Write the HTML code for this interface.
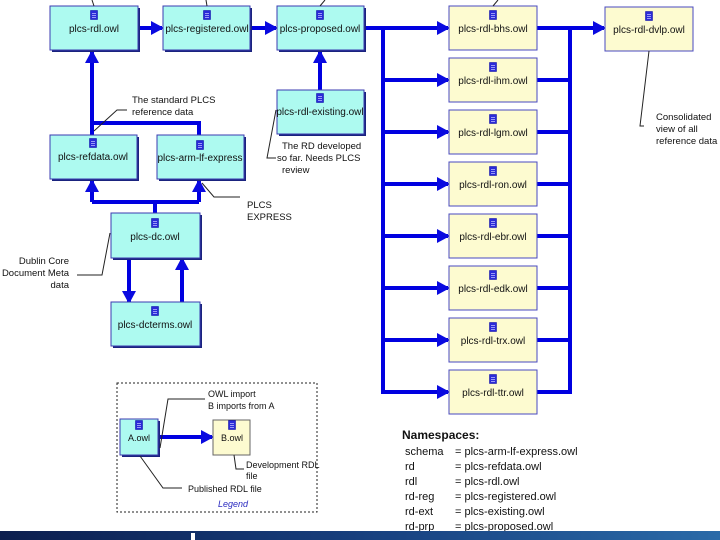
<!DOCTYPE html>
<html><head><style>
html,body{margin:0;padding:0;background:#fff;}
svg{display:block;font-family:"Liberation Sans",sans-serif;}
</style></head><body>
<svg width="720" height="540" viewBox="0 0 720 540" xmlns="http://www.w3.org/2000/svg">
<defs>
<marker id="ah" markerWidth="13" markerHeight="14" refX="11" refY="7" orient="auto" markerUnits="userSpaceOnUse"><path d="M0,0 L13,7 L0,14 z" fill="#0a0ae0"/></marker>
<linearGradient id="band" x1="0" x2="1" y1="0" y2="0"><stop offset="0" stop-color="#0c1e4e"/><stop offset="0.5" stop-color="#173f7e"/><stop offset="1" stop-color="#2a6aa8"/></linearGradient>
<g id="ic"><rect x="-3.5" y="-4.5" width="7" height="9" fill="#2a2ad8" stroke="#0000a0" stroke-width="0.5"/><path d="M-2,-1.5h4M-2,0.5h4M-2,2.5h4" stroke="#c0c0ff" stroke-width="0.7"/></g>
</defs>
<rect width="720" height="540" fill="#fff"/>

<g stroke="#0000e0" stroke-width="4" fill="none">
<line x1="138" y1="28" x2="162" y2="28" marker-end="url(#ah)"/>
<line x1="250" y1="28" x2="276" y2="28" marker-end="url(#ah)"/>
<line x1="364" y1="28" x2="448" y2="28" marker-end="url(#ah)"/>
<line x1="320" y1="90" x2="320" y2="52" marker-end="url(#ah)"/>
<line x1="383" y1="28" x2="383" y2="392"/>
<line x1="383" y1="80" x2="448" y2="80" marker-end="url(#ah)"/>
<line x1="383" y1="132" x2="448" y2="132" marker-end="url(#ah)"/>
<line x1="383" y1="184" x2="448" y2="184" marker-end="url(#ah)"/>
<line x1="383" y1="236" x2="448" y2="236" marker-end="url(#ah)"/>
<line x1="383" y1="288" x2="448" y2="288" marker-end="url(#ah)"/>
<line x1="383" y1="340" x2="448" y2="340" marker-end="url(#ah)"/>
<line x1="381" y1="392" x2="448" y2="392" marker-end="url(#ah)"/>
<line x1="570" y1="28" x2="570" y2="394"/>
<line x1="537" y1="28" x2="604" y2="28" marker-end="url(#ah)"/>
<line x1="537" y1="80" x2="570" y2="80"/>
<line x1="537" y1="132" x2="570" y2="132"/>
<line x1="537" y1="184" x2="570" y2="184"/>
<line x1="537" y1="236" x2="570" y2="236"/>
<line x1="537" y1="288" x2="570" y2="288"/>
<line x1="537" y1="340" x2="570" y2="340"/>
<line x1="537" y1="392" x2="572" y2="392"/>
<line x1="92" y1="135" x2="92" y2="52" marker-end="url(#ah)"/>
<polyline points="199,135 199,123 92,123"/>
<line x1="155" y1="213" x2="155" y2="202"/>
<line x1="92" y1="202" x2="199" y2="202"/>
<line x1="92" y1="202" x2="92" y2="181" marker-end="url(#ah)"/>
<line x1="199" y1="202" x2="199" y2="181" marker-end="url(#ah)"/>
<line x1="129" y1="258" x2="129" y2="302" marker-end="url(#ah)"/>
<line x1="182" y1="302" x2="182" y2="259" marker-end="url(#ah)"/>
<line x1="159" y1="437" x2="212" y2="437" marker-end="url(#ah)"/>
</g>

<g font-size="10" text-anchor="middle" fill="#111">
<g>
<rect x="52" y="8" width="88" height="44" fill="#1a237e"/><rect x="50" y="6" width="88" height="44" fill="#adfaf0" stroke="#3b3bb0"/>
<use href="#ic" x="94" y="15"/><text x="94" y="32">plcs-rdl.owl</text>
</g>
<g>
<rect x="165" y="8" width="87" height="44" fill="#1a237e"/><rect x="163" y="6" width="87" height="44" fill="#adfaf0" stroke="#3b3bb0"/>
<use href="#ic" x="207" y="15"/><text x="207" y="32">plcs-registered.owl</text>
</g>
<g>
<rect x="279" y="8" width="87" height="44" fill="#1a237e"/><rect x="277" y="6" width="87" height="44" fill="#adfaf0" stroke="#3b3bb0"/>
<use href="#ic" x="320" y="15"/><text x="320" y="32">plcs-proposed.owl</text>
</g>
<g>
<rect x="279" y="92" width="87" height="44" fill="#1a237e"/><rect x="277" y="90" width="87" height="44" fill="#adfaf0" stroke="#3b3bb0"/>
<use href="#ic" x="320" y="98"/><text x="320" y="115">plcs-rdl-existing.owl</text>
</g>
<g>
<rect x="52" y="137" width="87" height="44" fill="#1a237e"/><rect x="50" y="135" width="87" height="44" fill="#adfaf0" stroke="#3b3bb0"/>
<use href="#ic" x="93" y="143"/><text x="93" y="160">plcs-refdata.owl</text>
</g>
<g>
<rect x="159" y="137" width="87" height="44" fill="#1a237e"/><rect x="157" y="135" width="87" height="44" fill="#adfaf0" stroke="#3b3bb0"/>
<use href="#ic" x="200" y="145"/><text x="200" y="161">plcs-arm-lf-express</text>
</g>
<g>
<rect x="113" y="215" width="89" height="45" fill="#1a237e"/><rect x="111" y="213" width="89" height="45" fill="#adfaf0" stroke="#3b3bb0"/>
<use href="#ic" x="155" y="223"/><text x="155" y="240">plcs-dc.owl</text>
</g>
<g>
<rect x="113" y="304" width="89" height="44" fill="#1a237e"/><rect x="111" y="302" width="89" height="44" fill="#adfaf0" stroke="#3b3bb0"/>
<use href="#ic" x="155" y="311"/><text x="155" y="328">plcs-dcterms.owl</text>
</g>

<g>
<rect x="449" y="6" width="88" height="44" fill="#fdfbd0" stroke="#4848c0"/><use href="#ic" x="493" y="15"/><text x="493" y="32">plcs-rdl-bhs.owl</text>
<rect x="449" y="58" width="88" height="44" fill="#fdfbd0" stroke="#4848c0"/><use href="#ic" x="493" y="67"/><text x="493" y="84">plcs-rdl-ihm.owl</text>
<rect x="449" y="110" width="88" height="44" fill="#fdfbd0" stroke="#4848c0"/><use href="#ic" x="493" y="119"/><text x="493" y="136">plcs-rdl-lgm.owl</text>
<rect x="449" y="162" width="88" height="44" fill="#fdfbd0" stroke="#4848c0"/><use href="#ic" x="493" y="171"/><text x="493" y="188">plcs-rdl-ron.owl</text>
<rect x="449" y="214" width="88" height="44" fill="#fdfbd0" stroke="#4848c0"/><use href="#ic" x="493" y="223"/><text x="493" y="240">plcs-rdl-ebr.owl</text>
<rect x="449" y="266" width="88" height="44" fill="#fdfbd0" stroke="#4848c0"/><use href="#ic" x="493" y="275"/><text x="493" y="292">plcs-rdl-edk.owl</text>
<rect x="449" y="318" width="88" height="44" fill="#fdfbd0" stroke="#4848c0"/><use href="#ic" x="493" y="327"/><text x="493" y="344">plcs-rdl-trx.owl</text>
<rect x="449" y="370" width="88" height="44" fill="#fdfbd0" stroke="#4848c0"/><use href="#ic" x="493" y="379"/><text x="493" y="396">plcs-rdl-ttr.owl</text>
<rect x="605" y="7" width="88" height="44" fill="#fdfbd0" stroke="#4848c0"/><use href="#ic" x="649" y="16"/><text x="649" y="33">plcs-rdl-dvlp.owl</text>
</g>

<rect x="117" y="383" width="200" height="129" fill="none" stroke="#222" stroke-dasharray="2,2"/>
<rect x="122" y="421" width="38" height="36" fill="#1a237e"/><rect x="120" y="419" width="38" height="36" fill="#adfaf0" stroke="#3b3bb0"/>
<use href="#ic" x="139" y="425"/><text x="139" y="441" font-size="9">A.owl</text>
<rect x="213" y="420" width="37" height="35" fill="#fdfbd0" stroke="#666"/>
<use href="#ic" x="232" y="425"/><text x="232" y="441" font-size="9">B.owl</text>
</g>

<g stroke="#222" stroke-width="1" fill="none">
<line x1="92" y1="0" x2="94" y2="6"/>
<line x1="206" y1="0" x2="207" y2="6"/>
<line x1="325" y1="0" x2="320" y2="6"/>
<line x1="498" y1="0" x2="493" y2="6"/>
<polyline points="94,131 117,110 127,110"/>
<polyline points="276,110 267,158 276,158"/>
<polyline points="202,183 214,197 240,197"/>
<polyline points="110,233 102,275 77,275"/>
<polyline points="649,51 640,126 644,126"/>
<polyline points="160,448 168,399 205,399"/>
<polyline points="140,456 163,488 182,488"/>
<polyline points="234,455 236,469 244,469"/>
</g>
<g font-size="9.5" fill="#111">
<text x="132" y="103">The standard PLCS</text><text x="132" y="115">reference data</text>
<text x="282" y="149">The RD developed</text><text x="277" y="161">so far. Needs PLCS</text><text x="282" y="173">review</text>
<text x="247" y="208">PLCS</text><text x="247" y="220">EXPRESS</text>
<g text-anchor="end"><text x="69" y="264">Dublin Core</text><text x="69" y="276">Document Meta</text><text x="69" y="288">data</text></g>
<text x="656" y="120">Consolidated</text><text x="656" y="132">view of all</text><text x="656" y="144">reference data</text>
<text x="208" y="397" font-size="9">OWL import</text><text x="208" y="409" font-size="9">B imports from A</text>
<text x="246" y="468" font-size="9">Development RDL</text><text x="246" y="479" font-size="9">file</text>
<text x="188" y="492" font-size="9">Published RDL file</text>
<text x="233" y="507" font-size="9" font-style="italic" fill="#2a2ac0" text-anchor="middle">Legend</text>
</g>

<g font-size="11" fill="#111">
<text x="402" y="439" font-weight="bold" font-size="12">Namespaces:</text>
<text x="405" y="455">schema</text><text x="455" y="455">= plcs-arm-lf-express.owl</text>
<text x="405" y="470">rd</text><text x="455" y="470">= plcs-refdata.owl</text>
<text x="405" y="485">rdl</text><text x="455" y="485">= plcs-rdl.owl</text>
<text x="405" y="500">rd-reg</text><text x="455" y="500">= plcs-registered.owl</text>
<text x="405" y="515">rd-ext</text><text x="455" y="515">= plcs-existing.owl</text>
<text x="405" y="530">rd-prp</text><text x="455" y="530">= plcs-proposed.owl</text>
</g>

<rect x="0" y="531" width="720" height="9" fill="url(#band)"/>
<rect x="191" y="533" width="4" height="7" fill="#fff"/>
</svg>
</body></html>
